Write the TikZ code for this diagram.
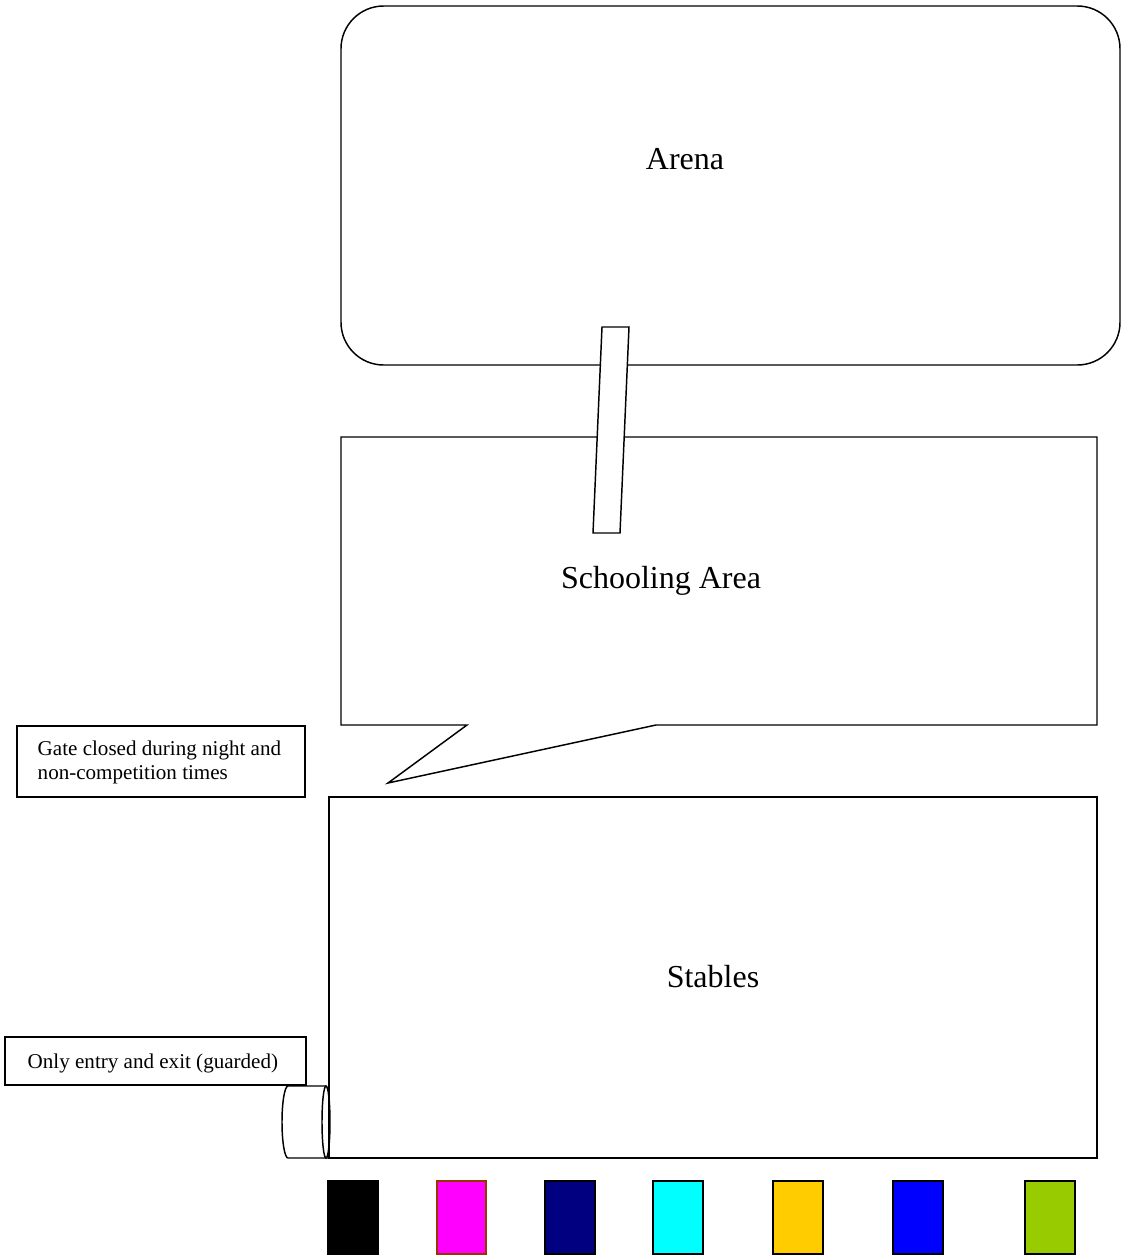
\documentclass[tikz,border=0pt]{standalone}
\usepackage{fontspec}
\setmainfont{Liberation Serif}
\usepackage{xcolor}
\usetikzlibrary{positioning}
\definecolor{swbrown}{HTML}{993300}
\definecolor{swnavy}{HTML}{000080}
\definecolor{swcyan}{HTML}{00FFFF}
\definecolor{swmagenta}{HTML}{FF00FF}
\definecolor{swyellow}{HTML}{FFCC00}
\definecolor{swblue}{HTML}{0000FF}
\definecolor{swgreen}{HTML}{99CC00}

\begin{document}
\begin{tikzpicture}[x=0.75pt, y=-0.75pt, line width=1.1pt,
        bigtext/.style={font=\fontsize{24}{28}\selectfont},
        smalltext/.style={font=\fontsize{15.8}{18}\selectfont, inner sep=0pt, anchor=west, align=left}]
        \useasboundingbox (0,0) rectangle (1121,1260);

        % Arena
        \draw[rounded corners=32pt] (341,6) rectangle (1120,365);
        \node[bigtext] (arena) at (685,159) {Arena};

        % Schooling area (callout)
        \draw (341,437) -- (1097,437) -- (1097,725) -- (656,725) -- (388,783) -- (467,725) -- (341,725) -- cycle;
        \node[bigtext] (school) at (661,581) {Schooling Area};

        % Arena -> Schooling
        \draw[fill=white] (602,327) -- (629,327) -- (620,533) -- (593,533) -- cycle;

        % Stables
        \draw (329,797) rectangle (1097,1158);
        \node[bigtext] (stables) at (713,977) {Stables};

        % notes
        \draw (17,726) rectangle (305,797);
        \node[smalltext] (gatenote) at (37,762) {Gate closed during night and\\non-competition times};
        \draw (5,1037) rectangle (306,1085);
        \node[smalltext] (entrynote) at (27,1063) {Only entry and exit (guarded)};

        % entry tube
        \draw (326,1086) -- (288,1086) arc[start angle=90, end angle=270, x radius=4.5pt, y radius=27pt] -- (329,1158);
        \draw (326,1122) ellipse[x radius=3pt, y radius=27pt];

        % colour swatches
        \foreach \sx/\sc in {328/black, 545/swnavy, 653/swcyan, 773/swyellow, 893/swblue, 1025/swgreen}
            \draw[fill=\sc] (\sx,1181) rectangle ++(50,73);
        \draw[draw=swbrown, fill=swmagenta] (437,1181) rectangle ++(49,73);
    \end{tikzpicture}
\end{document}
